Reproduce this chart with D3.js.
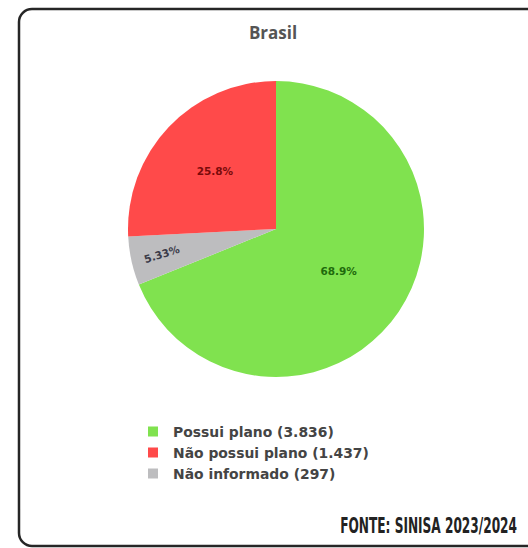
<!DOCTYPE html>
<meta charset="utf-8">
<script src="https://d3js.org/d3.v7.min.js"></script>
<div id="chart"></div>
<style>
	body {
		margin: 0;
		padding: 0;
		background: #fff;
		overflow: hidden;
	}
</style>
<script>
	// data
	const categories = ["Possui plano", "Não informado", "Não possui plano"];
	const values = [3836, 297, 1437];
	const colors = ["#80e24f", "#bdbdbf", "#ff4a4a"];
	const labelColors = ["#1f6a0c", "#3a3a48", "#7a0a0a"];
	const legendOrder = ["Possui plano", "Não possui plano", "Não informado"];
	const title = "Brasil";
	const source = "FONTE: SINISA 2023/2024";

	const WIDTH = 528, HEIGHT = 548;
	const cx = 276, cy = 229, R = 148;

	const br = d3.formatLocale({ decimal: ",", thousands: ".", grouping: [3], currency: ["R$", ""] });
	const fmtInt = br.format(",d");
	const fmtPct = d3.format(".3r");

	const svg = d3.select("#chart").append("svg")
		.attr("width", WIDTH)
		.attr("height", HEIGHT);

	// frame (cut off on the right like in the screenshot)
	svg.append("rect")
		.attr("x", 19).attr("y", 9)
		.attr("width", 540).attr("height", 537)
		.attr("rx", 13)
		.attr("fill", "#fff")
		.attr("stroke", "#262626")
		.attr("stroke-width", 2.5);

	svg.append("text")
		.attr("x", 273).attr("y", 39)
		.attr("text-anchor", "middle")
		.style("font-family", "'Open Sans', 'Noto Sans', sans-serif")
		.style("font-weight", 700)
		.style("font-size", "17px")
		.style("fill", "#555")
		.text(title);

	const data = categories.map((c, i) => ({ name: c, value: values[i], color: colors[i], labelColor: labelColors[i] }));
	const total = d3.sum(values);

	const pie = d3.pie().sort(null).value(d => d.value);
	const arc = d3.arc().innerRadius(0).outerRadius(R);
	const arcs = pie(data);

	const g = svg.append("g").attr("transform", `translate(${cx},${cy})`);

	g.selectAll("path")
		.data(arcs)
		.join("path")
		.attr("d", arc)
		.attr("fill", d => d.data.color);

	// labels: big slices near the middle, thin slices pushed out and turned radially
	g.selectAll("text")
		.data(arcs)
		.join("text")
		.attr("transform", d => {
			const span = d.endAngle - d.startAngle;
			const mid = (d.startAngle + d.endAngle) / 2;
			const r = span < 0.5 ? R * 0.79 : (span > Math.PI ? R * 0.51 : R * 0.57);
			const x = Math.sin(mid) * r, y = -Math.cos(mid) * r;
			let rot = 0;
			if (span < 0.5) {
				rot = mid * 180 / Math.PI - 90 - 5;
				if (rot > 90) rot -= 180;
				if (rot < -90) rot += 180;
			}
			return `translate(${x},${y}) rotate(${rot})`;
		})
		.attr("text-anchor", "middle")
		.attr("dy", "0.35em")
		.style("font-family", "'DejaVu Sans', sans-serif")
		.style("font-weight", 700)
		.style("font-size", "10.5px")
		.style("fill", d => d.data.labelColor)
		.text(d => fmtPct(d.data.value / total * 100) + "%");

	// legend
	const legendData = legendOrder.map(n => data.find(d => d.name === n));
	const y = d3.scaleBand().domain(legendOrder).range([421, 484]);

	const leg = svg.append("g").selectAll("g")
		.data(legendData)
		.join("g")
		.attr("transform", d => `translate(148,${y(d.name) + y.bandwidth() / 2})`);

	leg.append("rect")
		.attr("x", 0).attr("y", -5)
		.attr("width", 10).attr("height", 10)
		.attr("fill", d => d.color);

	leg.append("text")
		.attr("x", 25)
		.attr("dy", "0.36em")
		.style("font-family", "'DejaVu Sans', Verdana, sans-serif")
		.style("font-weight", 700)
		.style("font-size", "13.9px")
		.style("fill", "#444")
		.text(d => `${d.name} (${fmtInt(d.value)})`);

	// source note: condensed look by squeezing the glyphs horizontally
	const src = svg.append("text")
		.attr("text-anchor", "end")
		.style("font-family", "'DejaVu Sans Condensed', 'DejaVu Sans', sans-serif")
		.style("font-weight", 700)
		.style("font-size", "21.5px")
		.style("fill", "#222")
		.text(source);
	const sx = 177 / src.node().getComputedTextLength();
	src.attr("transform", `translate(517,533) scale(${sx},1)`);
</script>
